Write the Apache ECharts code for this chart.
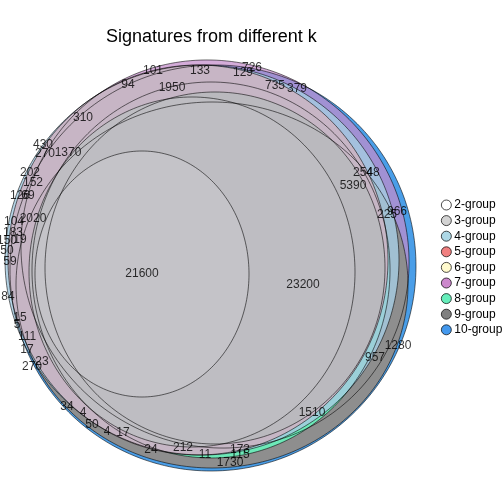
<!DOCTYPE html>
<html>
<head>
<meta charset="utf-8">
<script src="https://cdn.jsdelivr.net/npm/echarts@6/dist/echarts.min.js"></script>
<style>
html,body{margin:0;padding:0;background:#fff;}
#chart{width:504px;height:504px;}
</style>
</head>
<body>
<div id="chart"></div>
<script>
// ---- data (diagram coordinates: x to the right, y upwards) ----
const groups = ['2-group','3-group','4-group','5-group','6-group','7-group','8-group','9-group','10-group'];
const groupColors = ['#FFFFFF','#D3D3D3','#ADD8E6','#F08080','#FFFACD','#CC88CC','#66EEBB','#808080','#4499EE'];
// fitted ellipse of each group's signature set
const ellipseCx    = [-71,   2, -11, -15, -21,   2,  -2,  -1,   0];
const ellipseCy    = [ -7,  -1,   7,   7,  -5,  13,  -3, -18,  -1];
const ellipseA     = [107, 170, 197, 190, 163, 198, 179, 196, 204];
const ellipseB     = [123, 176, 195, 195, 175, 190, 188, 183, 202];
const ellipseAngle = [  0,   0,   0,   0,   0, -45,   0,   0,  45];

// region counts and their label anchors
const regionLabels = ['21600','23200','5390','1950','1370','2020','310','430','270','202','152','126','69','104','183','150','19','50','59','84','15','5','111','17','23','270','34','4','50','4','17','24','212','11','173','115','1730','1510','957','1280','225','966','254','48','735','379','726','129','133','101','94'];
const regionX = [-71, 90, 140, -41, -145, -180, -130, -170, -168, -183, -180, -193, -185, -199, -200, -206, -193, -206, -203, -205, -193, -196, -186, -186, -171, -181, -146, -130, -121, -106, -90, -62, -30, -8, 27, 27, 17, 99, 162, 185, 174, 184, 150, 160, 62, 84, 39, 30, -13, -60, -85];
const regionY = [-7, -18, 81, 179, 114, 48, 149, 122, 113, 94, 84, 71, 71, 45, 34, 26, 27, 16, 5, -30, -51, -58, -70, -83, -95, -100, -140, -146, -158, -165, -166, -183, -181, -188, -183, -188, -196, -146, -91, -79, 52, 55, 94, 94, 181, 178, 199, 194, 196, 196, 182];

// ---- style ----
const drawOrder = ['10-group','7-group','9-group','8-group','4-group','5-group','3-group','6-group','2-group'];
// fill tone used for each set's area (blended region tones of the picture)
const fillStyle = {
  '10-group':'rgba(74,158,232,1)',
  '7-group':'rgba(196,140,203,0.72)',
  '9-group':'rgba(142,142,142,1)',
  '8-group':'rgba(109,232,184,1)',
  '4-group':'rgba(165,202,224,0.82)',
  '5-group':'rgba(201,180,195,0.93)',
  '3-group':'rgba(186,185,190,1)',
  '6-group':'rgba(190,189,194,1)',
  '2-group':'rgba(196,195,200,1)'
};
const FONT = '"Liberation Sans", Arial, sans-serif';

function ellipsePoints(api, cx, cy, a, b, deg){
  const pts=[], N=240, th=deg*Math.PI/180, c=Math.cos(th), s=Math.sin(th);
  for(let k=0;k<N;k++){
    const t=k/N*2*Math.PI;
    const u=a*Math.cos(t), v=b*Math.sin(t);
    pts.push(api.coord([cx+u*c-v*s, cy+u*s+v*c]));
  }
  return pts;
}
function ellipseDatum(i){ return [ellipseCx[i], ellipseCy[i], ellipseA[i], ellipseB[i], ellipseAngle[i]]; }

const series = drawOrder.map(function(name){
  const i = groups.indexOf(name);
  return {
    name: name,
    type: 'custom',
    coordinateSystem: 'cartesian2d',
    silent: true,
    clip: false,
    z: 2,
    itemStyle: {color: groupColors[i]},
    data: [ellipseDatum(i)],
    renderItem: function(params, api){
      return {type:'polygon',
        shape:{points: ellipsePoints(api, api.value(0), api.value(1), api.value(2), api.value(3), api.value(4))},
        style:{fill: fillStyle[name], stroke:'none'}};
    }
  };
});

// outlines of all sets drawn above the fills
series.push({
  name: 'outlines',
  type: 'custom',
  coordinateSystem: 'cartesian2d',
  silent: true,
  clip: false,
  z: 3,
  data: groups.map(function(g,i){ return ellipseDatum(i); }),
  renderItem: function(params, api){
    return {type:'polygon',
      shape:{points: ellipsePoints(api, api.value(0), api.value(1), api.value(2), api.value(3), api.value(4))},
      style:{fill:'none', stroke:'rgba(0,0,0,0.8)', lineWidth:0.7}};
  }
});

series.push({
  name: 'counts',
  type: 'scatter',
  silent: true,
  symbolSize: 0,
  z: 10,
  data: regionLabels.map(function(t,i){ return {name:t, value:[regionX[i], regionY[i]]}; }),
  label: {show:true, position:'inside', formatter:'{b}', color:'#000', fontSize:12, fontFamily:FONT}
});

const chart = echarts.init(document.getElementById('chart'), null, {renderer:'canvas'});
chart.setOption({
  animation: false,
  backgroundColor: '#fff',
  title: {
    text: 'Signatures from different k',
    left: 101, top: 23,
    textStyle: {fontSize:18, fontWeight:'normal', color:'#000', fontFamily:FONT}
  },
  legend: {
    data: groups,
    orient: 'vertical',
    left: 436, top: 194,
    icon: 'circle',
    itemWidth: 10, itemHeight: 10, itemGap: 3.6,
    itemStyle: {borderColor:'#000', borderWidth:0.7},
    textStyle: {fontSize:12, fontFamily:FONT, color:'#000', lineHeight:12, padding:[0,0,0,-2]}
  },
  grid: {left:0, right:0, top:0, bottom:0},
  xAxis: {type:'value', min:-213, max:291, show:false},
  yAxis: {type:'value', min:-237, max:267, show:false},
  series: series
});
</script>
</body>
</html>
